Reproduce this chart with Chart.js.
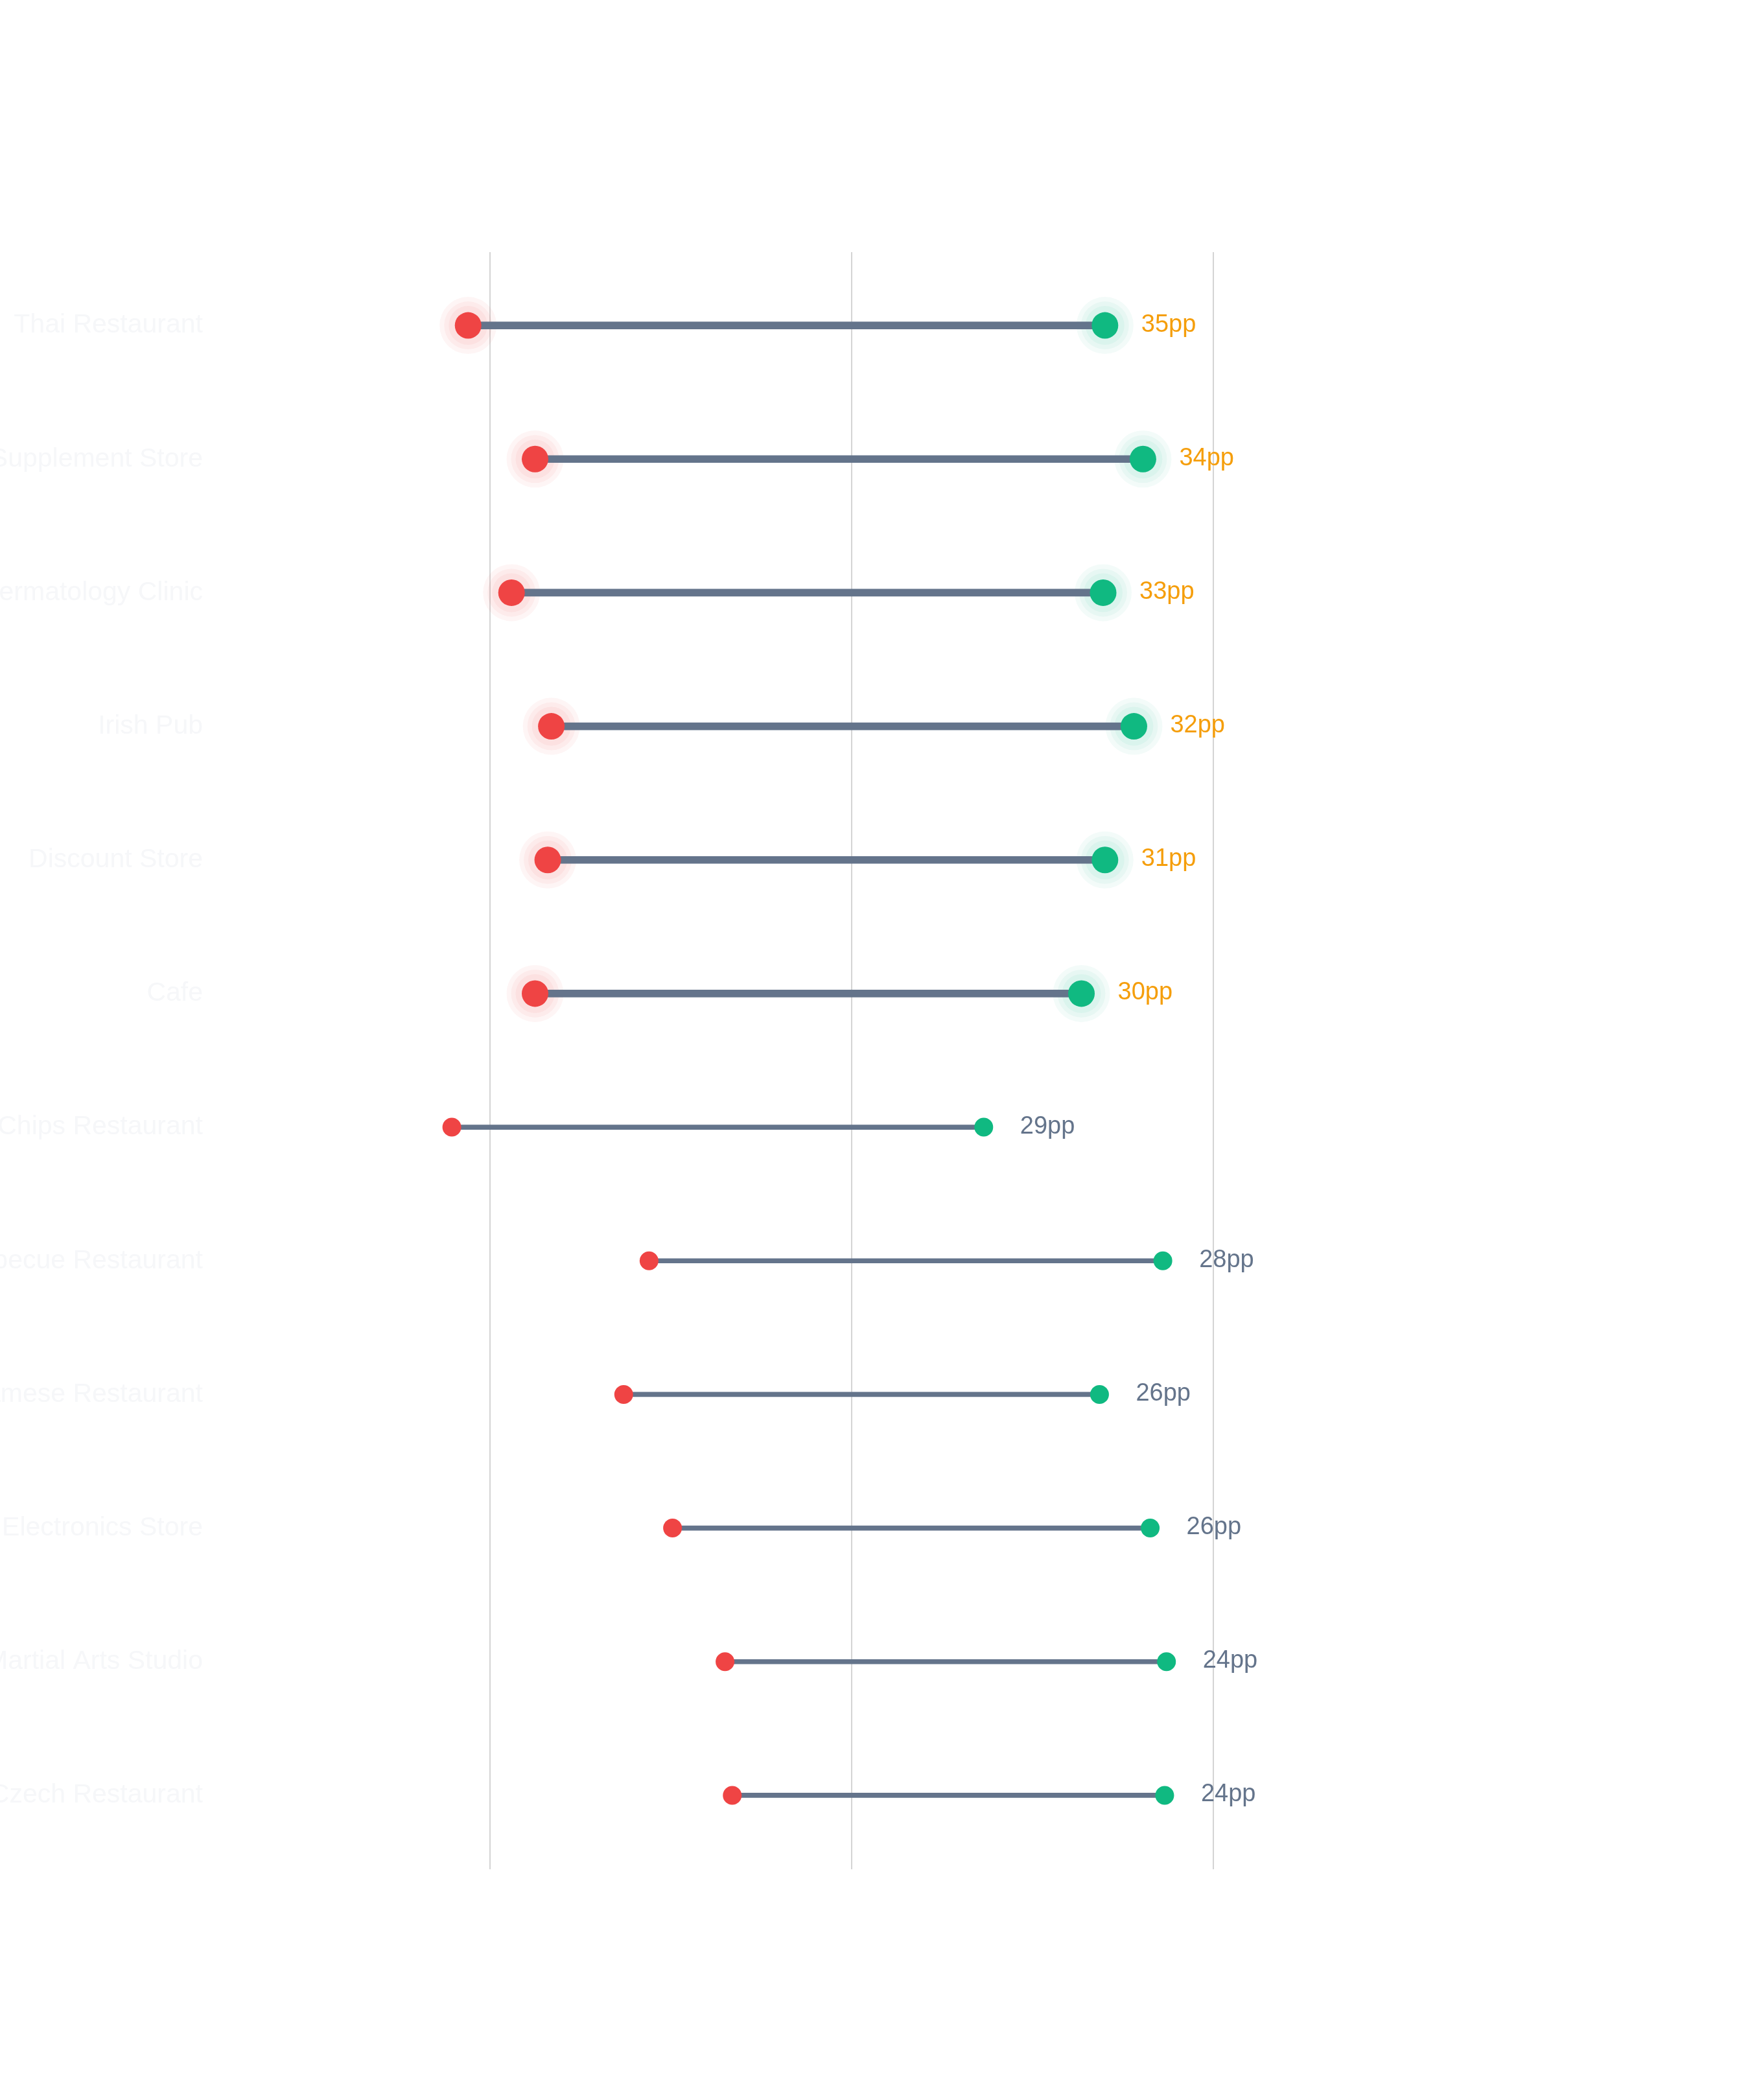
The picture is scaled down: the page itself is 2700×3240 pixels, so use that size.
<!DOCTYPE html>
<html>
<head>
<meta charset="utf-8">
<script src="https://cdn.jsdelivr.net/npm/chart.js@4/dist/chart.umd.min.js"></script>
<style>
  html, body { margin: 0; padding: 0; background: #ffffff; }
  #wrap { width: 2700px; height: 3240px; position: relative; }
</style>
</head>
<body>
<div id="wrap"><canvas id="dumbbell"></canvas></div>
<script>
// categories, top to bottom
const categories = [
    'Thai Restaurant',
    'Supplement Store',
    'Dermatology Clinic',
    'Irish Pub',
    'Discount Store',
    'Cafe',
    'Fish & Chips Restaurant',
    'Barbecue Restaurant',
    'Vietnamese Restaurant',
    'Electronics Store',
    'Martial Arts Studio',
    'Czech Restaurant'
];

// start (red) and end (green) values
const startValues = [18.8, 22.5, 21.2, 23.4, 23.2, 22.5, 17.9, 28.8, 27.4, 30.1, 33.0, 33.4];
const endValues   = [54.0, 56.1, 53.9, 55.6, 54.0, 52.7, 47.3, 57.2, 53.7, 56.5, 57.4, 57.3];

// x axis tick values (labels hidden in the original)
const xTicks = [20, 40, 60];

const gaps = endValues.map((v, i) => v - startValues[i]);
const isTop = gaps.map(g => Math.round(g) >= 30);

const RED = '#ef4444';
const GREEN = '#10b981';
const SLATE = '#64748b';
const ORANGE = '#f59e0b';

Chart.defaults.font.family = '"Liberation Sans", Arial, Helvetica, sans-serif';

const pts = arr => arr.map((v, i) => ({ x: v, y: categories[i] }));

function haloSet(values, color, r, order) {
    return {
        type: 'line',
        data: pts(values),
        showLine: false,
        backgroundColor: color,
        borderWidth: 0,
        pointBorderWidth: 0,
        pointRadius: ctx => isTop[ctx.dataIndex] ? r : 0,
        pointHoverRadius: ctx => isTop[ctx.dataIndex] ? r : 0,
        order: order
    };
}

function dotSet(values, color) {
    return {
        type: 'line',
        data: pts(values),
        showLine: false,
        backgroundColor: color,
        borderColor: color,
        borderWidth: 0,
        pointBorderWidth: 0,
        pointRadius: ctx => isTop[ctx.dataIndex] ? 20.5 : 14.5,
        pointHoverRadius: ctx => isTop[ctx.dataIndex] ? 20.5 : 14.5,
        order: 1
    };
}

// gap labels next to the green dot
const gapLabels = {
    id: 'gapLabels',
    afterDatasetsDraw(chart) {
        const { ctx, scales: { x, y } } = chart;
        ctx.save();
        ctx.font = '38px "Liberation Sans", Arial, Helvetica, sans-serif';
        ctx.textAlign = 'left';
        ctx.textBaseline = 'middle';
        categories.forEach((c, i) => {
            ctx.fillStyle = isTop[i] ? ORANGE : SLATE;
            ctx.fillText(Math.round(gaps[i]) + 'pp', x.getPixelForValue(endValues[i]) + 56, y.getPixelForValue(i) - 1);
        });
        ctx.restore();
    }
};

const xAxisBase = {
    type: 'linear',
    axis: 'x',
    min: 5,
    max: 75,
    afterBuildTicks: s => { s.ticks = xTicks.map(v => ({ value: v })); },
    ticks: { display: false, stepSize: 20, includeBounds: false },
    border: { display: false }
};

new Chart(document.getElementById('dumbbell'), {
    type: 'bar',
    data: {
        labels: categories,
        datasets: [
            dotSet(startValues, RED),
            dotSet(endValues, GREEN),
            {
                type: 'bar',
                data: startValues.map((v, i) => isTop[i] ? [v, endValues[i]] : null),
                backgroundColor: SLATE,
                barThickness: 11,
                grouped: false,
                order: 2
            },
            {
                type: 'bar',
                data: startValues.map((v, i) => isTop[i] ? null : [v, endValues[i]]),
                backgroundColor: SLATE,
                barThickness: 7,
                grouped: false,
                order: 2
            },
            haloSet(startValues, 'rgba(239, 68, 68, 0.05)', 44, 3),
            haloSet(startValues, 'rgba(239, 68, 68, 0.05)', 37, 3),
            haloSet(startValues, 'rgba(239, 68, 68, 0.06)', 30, 3),
            haloSet(endValues, 'rgba(16, 185, 129, 0.05)', 44, 3),
            haloSet(endValues, 'rgba(16, 185, 129, 0.05)', 37, 3),
            haloSet(endValues, 'rgba(16, 185, 129, 0.06)', 30, 3)
        ]
    },
    options: {
        indexAxis: 'y',
        responsive: true,
        maintainAspectRatio: false,
        devicePixelRatio: 1,
        animation: false,
        layout: { padding: { top: 389, bottom: 356, left: 0, right: 409 } },
        plugins: {
            legend: { display: false },
            tooltip: { enabled: false }
        },
        scales: {
            y: {
                type: 'category',
                offset: true,
                afterFit: s => { s.width = 337; },
                grid: { display: false },
                border: { display: false },
                ticks: {
                    color: '#f6f7f9',
                    padding: 16,
                    font: { size: 41 }
                }
            },
            x: Object.assign({}, xAxisBase, {
                position: 'bottom',
                grid: { color: '#d4d4d4', lineWidth: 2, drawTicks: true, tickLength: 11 }
            }),
            x2: Object.assign({}, xAxisBase, {
                position: 'top',
                grid: { color: '#d4d4d4', lineWidth: 2, drawOnChartArea: false, drawTicks: true, tickLength: 10 }
            })
        }
    },
    plugins: [gapLabels]
});
</script>
</body>
</html>
